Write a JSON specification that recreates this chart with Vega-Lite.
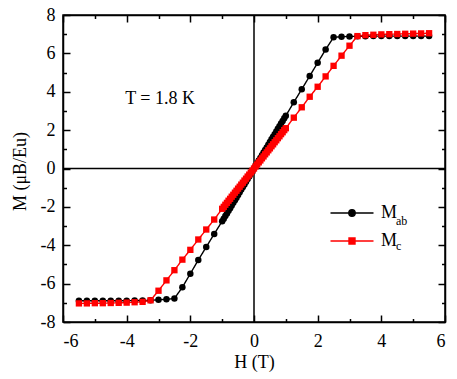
{
  "$schema": "https://vega.github.io/schema/vega-lite/v6.json",
  "width": 382,
  "height": 307,
  "autosize": "none",
  "padding": {"left": 63, "top": 15, "right": 12, "bottom": 57},
  "background": "white",
  "config": {
    "view": {"stroke": "black", "strokeWidth": 1.5},
    "font": "Liberation Serif",
    "axis": {
      "grid": false,
      "labelFont": "Liberation Serif",
      "labelFontSize": 18,
      "labelColor": "black",
      "labelOverlap": false,
      "titleFont": "Liberation Serif",
      "titleFontSize": 18,
      "titleFontWeight": "normal",
      "titleColor": "black",
      "tickColor": "black",
      "tickWidth": 1.5,
      "domainColor": "black",
      "domainWidth": 1.5
    },
    "axisY": {"labelOverlap": false},
    "axisLeft": {"labelOverlap": false},
    "legend": {"labelFont": "Liberation Serif", "labelColor": "black"}
  },
  "datasets": {
    "mag": [
      {"H": -5.5, "M": -6.89, "s": "Mab"}, {"H": -5.25, "M": -6.89, "s": "Mab"}, {"H": -5.0, "M": -6.89, "s": "Mab"},
      {"H": -4.75, "M": -6.89, "s": "Mab"}, {"H": -4.5, "M": -6.89, "s": "Mab"}, {"H": -4.25, "M": -6.89, "s": "Mab"},
      {"H": -4.0, "M": -6.89, "s": "Mab"}, {"H": -3.75, "M": -6.88, "s": "Mab"}, {"H": -3.5, "M": -6.88, "s": "Mab"},
      {"H": -3.25, "M": -6.87, "s": "Mab"}, {"H": -3.0, "M": -6.84, "s": "Mab"}, {"H": -2.75, "M": -6.82, "s": "Mab"},
      {"H": -2.5, "M": -6.77, "s": "Mab"}, {"H": -2.25, "M": -6.19, "s": "Mab"}, {"H": -2.0, "M": -5.48, "s": "Mab"},
      {"H": -1.75, "M": -4.77, "s": "Mab"}, {"H": -1.5, "M": -4.09, "s": "Mab"}, {"H": -1.25, "M": -3.41, "s": "Mab"},
      {"H": -1.0, "M": -2.75, "s": "Mab"}, {"H": -0.95, "M": -2.62, "s": "Mab"}, {"H": -0.9, "M": -2.48, "s": "Mab"},
      {"H": -0.85, "M": -2.34, "s": "Mab"}, {"H": -0.8, "M": -2.2, "s": "Mab"}, {"H": -0.75, "M": -2.07, "s": "Mab"},
      {"H": -0.7, "M": -1.93, "s": "Mab"}, {"H": -0.65, "M": -1.79, "s": "Mab"}, {"H": -0.6, "M": -1.65, "s": "Mab"},
      {"H": -0.55, "M": -1.52, "s": "Mab"}, {"H": -0.5, "M": -1.38, "s": "Mab"}, {"H": -0.45, "M": -1.24, "s": "Mab"},
      {"H": -0.4, "M": -1.1, "s": "Mab"}, {"H": -0.35, "M": -0.97, "s": "Mab"}, {"H": -0.3, "M": -0.83, "s": "Mab"},
      {"H": -0.25, "M": -0.69, "s": "Mab"}, {"H": -0.2, "M": -0.55, "s": "Mab"}, {"H": -0.15, "M": -0.42, "s": "Mab"},
      {"H": -0.1, "M": -0.28, "s": "Mab"}, {"H": -0.05, "M": -0.14, "s": "Mab"}, {"H": 0.0, "M": 0.0, "s": "Mab"},
      {"H": 0.05, "M": 0.14, "s": "Mab"}, {"H": 0.1, "M": 0.28, "s": "Mab"}, {"H": 0.15, "M": 0.42, "s": "Mab"},
      {"H": 0.2, "M": 0.55, "s": "Mab"}, {"H": 0.25, "M": 0.69, "s": "Mab"}, {"H": 0.3, "M": 0.83, "s": "Mab"},
      {"H": 0.35, "M": 0.97, "s": "Mab"}, {"H": 0.4, "M": 1.1, "s": "Mab"}, {"H": 0.45, "M": 1.24, "s": "Mab"},
      {"H": 0.5, "M": 1.38, "s": "Mab"}, {"H": 0.55, "M": 1.52, "s": "Mab"}, {"H": 0.6, "M": 1.65, "s": "Mab"},
      {"H": 0.65, "M": 1.79, "s": "Mab"}, {"H": 0.7, "M": 1.93, "s": "Mab"}, {"H": 0.75, "M": 2.07, "s": "Mab"},
      {"H": 0.8, "M": 2.2, "s": "Mab"}, {"H": 0.85, "M": 2.34, "s": "Mab"}, {"H": 0.9, "M": 2.48, "s": "Mab"},
      {"H": 0.95, "M": 2.62, "s": "Mab"}, {"H": 1.0, "M": 2.75, "s": "Mab"}, {"H": 1.25, "M": 3.45, "s": "Mab"},
      {"H": 1.5, "M": 4.13, "s": "Mab"}, {"H": 1.75, "M": 4.82, "s": "Mab"}, {"H": 2.0, "M": 5.51, "s": "Mab"},
      {"H": 2.25, "M": 6.2, "s": "Mab"}, {"H": 2.5, "M": 6.84, "s": "Mab"}, {"H": 2.75, "M": 6.87, "s": "Mab"},
      {"H": 3.0, "M": 6.88, "s": "Mab"}, {"H": 3.25, "M": 6.89, "s": "Mab"}, {"H": 3.5, "M": 6.89, "s": "Mab"},
      {"H": 3.75, "M": 6.9, "s": "Mab"}, {"H": 4.0, "M": 6.9, "s": "Mab"}, {"H": 4.25, "M": 6.9, "s": "Mab"},
      {"H": 4.5, "M": 6.9, "s": "Mab"}, {"H": 4.75, "M": 6.9, "s": "Mab"}, {"H": 5.0, "M": 6.9, "s": "Mab"},
      {"H": 5.25, "M": 6.9, "s": "Mab"}, {"H": 5.5, "M": 6.9, "s": "Mab"},

      {"H": -5.5, "M": -7.03, "s": "Mc"}, {"H": -5.25, "M": -7.03, "s": "Mc"}, {"H": -5.0, "M": -7.02, "s": "Mc"},
      {"H": -4.75, "M": -7.02, "s": "Mc"}, {"H": -4.5, "M": -7.01, "s": "Mc"}, {"H": -4.25, "M": -7.0, "s": "Mc"},
      {"H": -4.0, "M": -6.99, "s": "Mc"}, {"H": -3.75, "M": -6.97, "s": "Mc"}, {"H": -3.5, "M": -6.95, "s": "Mc"},
      {"H": -3.25, "M": -6.87, "s": "Mc"}, {"H": -3.0, "M": -6.37, "s": "Mc"}, {"H": -2.75, "M": -5.83, "s": "Mc"},
      {"H": -2.5, "M": -5.3, "s": "Mc"}, {"H": -2.25, "M": -4.75, "s": "Mc"}, {"H": -2.0, "M": -4.24, "s": "Mc"},
      {"H": -1.75, "M": -3.7, "s": "Mc"}, {"H": -1.5, "M": -3.18, "s": "Mc"}, {"H": -1.25, "M": -2.66, "s": "Mc"},
      {"H": -1.0, "M": -2.1, "s": "Mc"}, {"H": -0.95, "M": -2.0, "s": "Mc"}, {"H": -0.9, "M": -1.89, "s": "Mc"},
      {"H": -0.85, "M": -1.79, "s": "Mc"}, {"H": -0.8, "M": -1.68, "s": "Mc"}, {"H": -0.75, "M": -1.58, "s": "Mc"},
      {"H": -0.7, "M": -1.47, "s": "Mc"}, {"H": -0.65, "M": -1.37, "s": "Mc"}, {"H": -0.6, "M": -1.26, "s": "Mc"},
      {"H": -0.55, "M": -1.16, "s": "Mc"}, {"H": -0.5, "M": -1.05, "s": "Mc"}, {"H": -0.45, "M": -0.95, "s": "Mc"},
      {"H": -0.4, "M": -0.84, "s": "Mc"}, {"H": -0.35, "M": -0.74, "s": "Mc"}, {"H": -0.3, "M": -0.63, "s": "Mc"},
      {"H": -0.25, "M": -0.53, "s": "Mc"}, {"H": -0.2, "M": -0.42, "s": "Mc"}, {"H": -0.15, "M": -0.32, "s": "Mc"},
      {"H": -0.1, "M": -0.21, "s": "Mc"}, {"H": -0.05, "M": -0.11, "s": "Mc"}, {"H": 0.0, "M": 0.0, "s": "Mc"},
      {"H": 0.05, "M": 0.11, "s": "Mc"}, {"H": 0.1, "M": 0.21, "s": "Mc"}, {"H": 0.15, "M": 0.32, "s": "Mc"},
      {"H": 0.2, "M": 0.42, "s": "Mc"}, {"H": 0.25, "M": 0.53, "s": "Mc"}, {"H": 0.3, "M": 0.63, "s": "Mc"},
      {"H": 0.35, "M": 0.74, "s": "Mc"}, {"H": 0.4, "M": 0.84, "s": "Mc"}, {"H": 0.45, "M": 0.95, "s": "Mc"},
      {"H": 0.5, "M": 1.05, "s": "Mc"}, {"H": 0.55, "M": 1.16, "s": "Mc"}, {"H": 0.6, "M": 1.26, "s": "Mc"},
      {"H": 0.65, "M": 1.37, "s": "Mc"}, {"H": 0.7, "M": 1.47, "s": "Mc"}, {"H": 0.75, "M": 1.58, "s": "Mc"},
      {"H": 0.8, "M": 1.68, "s": "Mc"}, {"H": 0.85, "M": 1.79, "s": "Mc"}, {"H": 0.9, "M": 1.89, "s": "Mc"},
      {"H": 0.95, "M": 2.0, "s": "Mc"}, {"H": 1.0, "M": 2.1, "s": "Mc"}, {"H": 1.25, "M": 2.65, "s": "Mc"},
      {"H": 1.5, "M": 3.19, "s": "Mc"}, {"H": 1.75, "M": 3.74, "s": "Mc"}, {"H": 2.0, "M": 4.26, "s": "Mc"},
      {"H": 2.25, "M": 4.8, "s": "Mc"}, {"H": 2.5, "M": 5.35, "s": "Mc"}, {"H": 2.75, "M": 5.88, "s": "Mc"},
      {"H": 3.0, "M": 6.4, "s": "Mc"}, {"H": 3.25, "M": 6.9, "s": "Mc"}, {"H": 3.5, "M": 6.95, "s": "Mc"},
      {"H": 3.75, "M": 6.97, "s": "Mc"}, {"H": 4.0, "M": 6.99, "s": "Mc"}, {"H": 4.25, "M": 7.0, "s": "Mc"},
      {"H": 4.5, "M": 7.01, "s": "Mc"}, {"H": 4.75, "M": 7.02, "s": "Mc"}, {"H": 5.0, "M": 7.03, "s": "Mc"},
      {"H": 5.25, "M": 7.04, "s": "Mc"}, {"H": 5.5, "M": 7.05, "s": "Mc"}
    ]
  },
  "resolve": {"axis": {"x": "independent", "y": "independent"}},
  "layer": [
    {
      "data": {"values": [{}]},
      "mark": {"type": "rule", "color": "black", "strokeWidth": 1.5},
      "encoding": {
        "x": {
          "datum": 0, "type": "quantitative",
          "scale": {"domain": [-6, 6], "nice": false, "zero": false},
          "axis": {"orient": "top", "title": null, "labels": false, "values": [-6, -4, -2, 0, 2, 4, 6], "tickSize": -7}
        }
      }
    },
    {
      "data": {"values": [{}]},
      "mark": {"type": "rule", "color": "black", "strokeWidth": 1.5},
      "encoding": {
        "y": {
          "datum": 0, "type": "quantitative",
          "scale": {"domain": [-8, 8], "nice": false, "zero": false},
          "axis": {"orient": "right", "title": null, "labels": false, "values": [-8, -6, -4, -2, 0, 2, 4, 6, 8], "tickSize": -7}
        }
      }
    },
    {
      "data": {"values": [{}]},
      "mark": {"type": "point", "opacity": 0},
      "encoding": {
        "x": {
          "datum": 0, "type": "quantitative",
          "axis": {"orient": "top", "title": null, "labels": false, "domain": false, "values": [-5, -3, -1, 1, 3, 5], "tickSize": -3.5}
        },
        "y": {
          "datum": 0, "type": "quantitative",
          "axis": {"orient": "right", "title": null, "labels": false, "domain": false, "values": [-7, -5, -3, -1, 1, 3, 5, 7], "tickSize": -3.5}
        }
      }
    },
    {
      "data": {"name": "mag"},
      "encoding": {
        "x": {
          "field": "H", "type": "quantitative",
          "scale": {"domain": [-6, 6], "nice": false, "zero": false},
          "axis": {
            "orient": "bottom", "title": "H (T)", "titleY": 40, "titleBaseline": "middle",
            "values": [-6, -4, -2, 0, 2, 4, 6],
            "labelExpr": "'' + datum.value",
            "labelPadding": 17, "labelOverlap": false,
            "tickSize": -7
          }
        },
        "y": {
          "field": "M", "type": "quantitative",
          "scale": {"domain": [-8, 8], "nice": false, "zero": false},
          "axis": {"orient": "left", "title": null, "labels": false, "domain": false, "values": [-7, -5, -3, -1, 1, 3, 5, 7], "tickSize": -3.5}
        }
      },
      "layer": [
        {
          "mark": {"type": "line", "strokeWidth": 1.4},
          "encoding": {
            "color": {
              "field": "s", "type": "nominal",
              "scale": {"domain": ["Mab", "Mc"], "range": ["#000000", "#ff0000"]},
              "legend": {
                "orient": "none", "legendX": 278, "legendY": 187, "title": null,
                "padding": 0, "symbolSize": 400, "rowPadding": 8,
                "labelFontSize": 18, "labelOffset": 18, "labelExpr": "'M'",
                "encode": {
                  "symbols": {
                    "update": {
                      "shape": {"signal": "datum.value === 'Mab' ? 'M-2.15,0H2.15M-0.32,0A0.32,0.32,0,1,0,0.32,0A0.32,0.32,0,1,0,-0.32,0Z' : 'M-2.15,0H2.15M-0.3,-0.3H0.3V0.3H-0.3Z'"},
                      "fill": {"signal": "datum.value === 'Mab' ? '#000000' : '#ff0000'"},
                      "strokeWidth": {"value": 1.4},
                      "opacity": {"value": 1}
                    }
                  }
                }
              }
            },
            "strokeDash": {
              "field": "s", "type": "nominal",
              "scale": {"range": [[1, 0], [1, 0]]},
              "legend": {
                "orient": "none", "legendX": 278, "legendY": 195, "title": null,
                "padding": 0, "symbolSize": 400, "rowPadding": 8, "symbolOpacity": 0,
                "labelFontSize": 12, "labelOffset": 33,
                "labelExpr": "datum.label === 'Mab' ? 'ab' : 'c'"
              }
            }
          }
        },
        {
          "transform": [{"filter": "datum.s === 'Mab'"}],
          "mark": {"type": "point", "shape": "circle", "filled": true, "size": 42, "opacity": 1},
          "encoding": {
            "color": {"field": "s", "type": "nominal", "legend": null}
          }
        },
        {
          "transform": [{"filter": "datum.s === 'Mc'"}],
          "mark": {"type": "point", "shape": "square", "filled": true, "size": 40, "opacity": 1},
          "encoding": {
            "color": {"field": "s", "type": "nominal", "legend": null}
          }
        }
      ]
    },
    {
      "data": {"values": [{}]},
      "mark": {"type": "text", "text": "T = 1.8 K", "font": "Liberation Serif", "fontSize": 18, "color": "black", "baseline": "middle", "align": "center"},
      "encoding": {
        "x": {
          "datum": -2.95, "type": "quantitative",
          "axis": {"orient": "bottom", "title": null, "labels": false, "domain": false, "values": [-5, -3, -1, 1, 3, 5], "tickSize": -3.5}
        },
        "y": {
          "datum": 3.6, "type": "quantitative",
          "axis": {
            "orient": "left", "title": "M (μB/Eu)", "titleX": -43, "titleY": 156,
            "titleBaseline": "middle", "titleAlign": "center", "titleAngle": -90,
            "values": [-8, -6, -4, -2, 0, 2, 4, 6, 8],
            "labelExpr": "'' + datum.value",
            "labelPadding": 15, "labelOverlap": false, "labelBound": false,
            "tickSize": -7
          }
        }
      }
    }
  ]
}
